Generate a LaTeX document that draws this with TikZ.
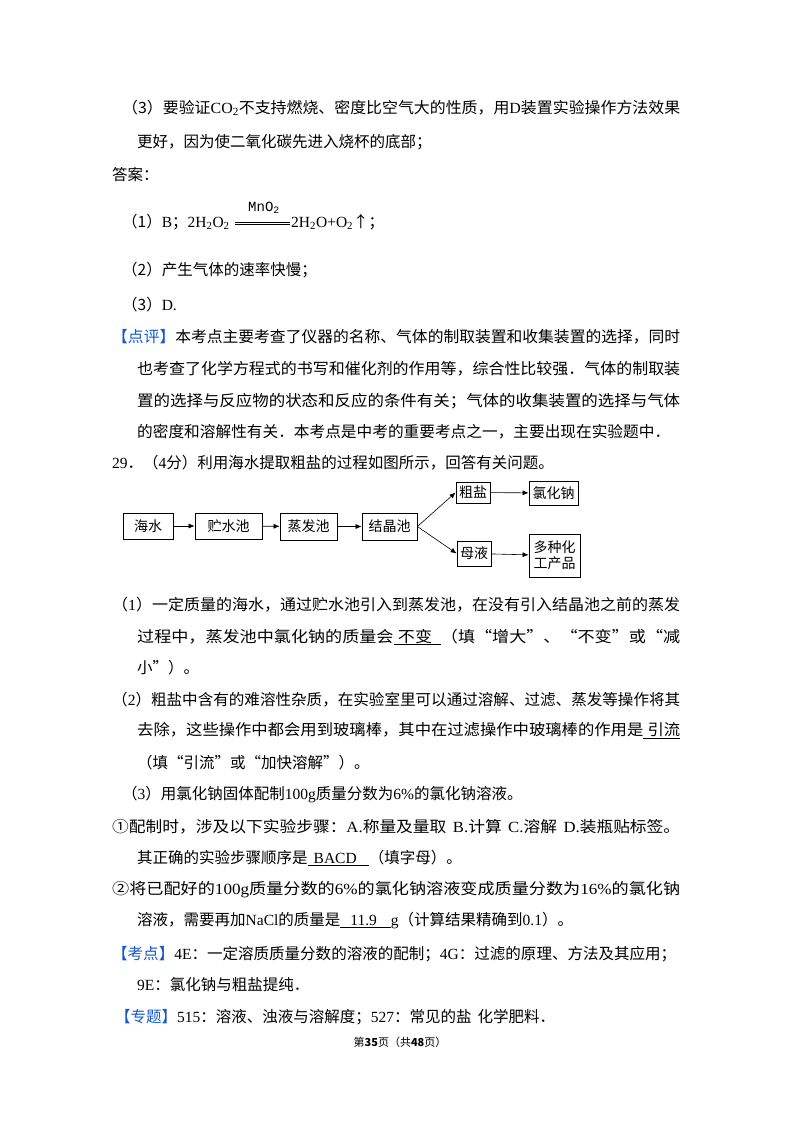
\documentclass[tikz,border=0pt]{standalone}
\usepackage{fontspec}
\usepackage{graphicx}
\setmainfont{Liberation Serif}
\newfontfamily\cjk{Noto Sans CJK SC}
\newfontfamily\mono{Liberation Mono}
\usetikzlibrary{arrows.meta}
\definecolor{hdblue}{RGB}{20,90,200}
\newcommand\fw[2]{\resizebox{#1pt}{\height}{#2}}
\newcommand\hb[1]{{\color{hdblue}【#1】}}
\tikzset{
  ln/.style={anchor=west,inner sep=0pt,font=\cjk\fontsize{15.5}{18}\selectfont},
  bx/.style={draw,thick,inner sep=0pt,font=\cjk\fontsize{14}{16}\selectfont,align=center},
  ar/.style={-{Latex[length=6pt,width=5pt]},line width=0.6pt}
}
\begin{document}
\begin{tikzpicture}[x=1pt,y=-1pt]
\useasboundingbox (0,0) rectangle (800,1132);
\fill[white] (0,0) rectangle (800,1132);
\node[ln] (l1) at (122,108) {\fw{558}{（3）要验证{\rmfamily CO\textsubscript{2}}不支持燃烧、密度比空气大的性质，用{\rmfamily D}装置实验操作方法效果}};
\node[ln] (l2) at (137,142) {更好，因为使二氧化碳先进入烧杯的底部；};
\node[ln] (l3) at (112,175) {答案：};
\node[ln] (l4a) at (122,222) {（1）{\rmfamily B}；{\rmfamily 2H\textsubscript{2}O\textsubscript{2}}};
\coordinate (e1) at (235,223);
\coordinate (e2) at (290,223);
\draw[line width=0.5pt] ([yshift=-1.2pt]e1) -- ([yshift=-1.2pt]e2);
\draw[line width=0.5pt] ([yshift=1.2pt]e1) -- ([yshift=1.2pt]e2);
\node[inner sep=0pt,font=\mono\fontsize{14}{15}\selectfont] (mn) at (264,208) {MnO\textsubscript{2}};
\node[ln] (l4b) at (291,222) {{\rmfamily 2H\textsubscript{2}O+O\textsubscript{2}}↑；};
\node[ln] (l5) at (122,270) {（2）产生气体的速率快慢；};
\node[ln] (l6) at (122,305) {（3）{\rmfamily D.}};
\node[ln] (l7) at (112,337) {\fw{568}{\hb{点评}本考点主要考查了仪器的名称、气体的制取装置和收集装置的选择，同时}};
\node[ln] (l8) at (137,369) {\fw{543}{也考查了化学方程式的书写和催化剂的作用等，综合性比较强．气体的制取装}};
\node[ln] (l9) at (137,401) {\fw{543}{置的选择与反应物的状态和反应的条件有关；气体的收集装置的选择与气体}};
\node[ln] (l10) at (137,432) {\fw{533}{的密度和溶解性有关．本考点是中考的重要考点之一，主要出现在实验题中．}};
\node[ln] (l11) at (112,463) {{\rmfamily 29}．（{\rmfamily 4}分）利用海水提取粗盐的过程如图所示，回答有关问题。};
% flowchart
\node[bx,minimum width=50pt,minimum height=26pt] (b1) at (148,526) {海水};
\node[bx,minimum width=67pt,minimum height=26pt] (b2) at (228.5,526) {贮水池};
\node[bx,minimum width=57pt,minimum height=27pt] (b3) at (308.5,526.5) {蒸发池};
\node[bx,minimum width=55pt,minimum height=27pt] (b4) at (389.5,526.5) {结晶池};
\node[bx,minimum width=34pt,minimum height=21pt] (b5) at (473,492.5) {粗盐};
\node[bx,minimum width=49pt,minimum height=24pt] (b6) at (553.5,493) {氯化钠};
\node[bx,minimum width=34pt,minimum height=25pt] (b7) at (474,553.5) {母液};
\node[bx,minimum width=51pt,minimum height=43pt] (b8) at (554.5,555.5) {多种化\\工产品};
\draw[ar] (b1) -- (b2);
\draw[ar] (b2) -- (b3);
\draw[ar] (b3) -- (b4);
\draw[ar] (b4.east) -- (b5.west);
\draw[ar] (b4.east) -- (b7.west);
\draw[ar] (b5) -- (b6);
\draw[ar] (b7) -- (b8);
% questions
\node[ln] (q1) at (112,605) {\fw{568}{（{\rmfamily 1}）一定质量的海水，通过贮水池引入到蒸发池，在没有引入结晶池之前的蒸发}};
\node[ln] (q2) at (137,637) {\fw{543}{过程中，蒸发池中氯化钠的质量会\underline{\hspace{4pt}不变\hspace{8pt}}（填“增大”、“不变”或“减}};
\node[ln] (q3) at (137,668) {小”）。};
\node[ln] (q4) at (112,700) {\fw{568}{（{\rmfamily 2}）粗盐中含有的难溶性杂质，在实验室里可以通过溶解、过滤、蒸发等操作将其}};
\node[ln] (q5) at (137,731) {\fw{543}{去除，这些操作中都会用到玻璃棒，其中在过滤操作中玻璃棒的作用是\underline{\hspace{4pt}引流}}};
\node[ln] (q6) at (137,763) {（填“引流”或“加快溶解”）。};
\node[ln] (q7) at (122,795) {（{\rmfamily 3}）用氯化钠固体配制{\rmfamily 100g}质量分数为{\rmfamily 6\%}的氯化钠溶液。};
\node[ln] (q8) at (112,827) {\fw{568}{①配制时，涉及以下实验步骤：{\rmfamily A.}称量及量取\hspace{6pt}{\rmfamily B.}计算\hspace{6pt}{\rmfamily C.}溶解\hspace{6pt}{\rmfamily D.}装瓶贴标签。}};
\node[ln] (q9) at (137,858) {其正确的实验步骤顺序是\underline{\hspace{6pt}{\rmfamily BACD}\hspace{12pt}}（填字母）。};
\node[ln] (q10) at (112,890) {\fw{568}{②将已配好的{\rmfamily 100g}质量分数的{\rmfamily 6\%}的氯化钠溶液变成质量分数为{\rmfamily 16\%}的氯化钠}};
\node[ln] (q11) at (137,921) {溶液，需要再加{\rmfamily NaCl}的质量是\underline{\hspace{10pt}{\rmfamily 11.9}\hspace{14pt}}{\rmfamily g}（计算结果精确到{\rmfamily 0.1}）。};
\node[ln] (k1) at (112,954) {\fw{564}{\hb{考点}{\rmfamily 4E}：一定溶质质量分数的溶液的配制；{\rmfamily 4G}：过滤的原理、方法及其应用；}};
\node[ln] (k2) at (137,985) {{\rmfamily 9E}：氯化钠与粗盐提纯．};
\node[ln] (k3) at (115,1017) {\hb{专题}{\rmfamily 515}：溶液、浊液与溶解度；{\rmfamily 527}：常见的盐\hspace{6pt}化学肥料．};
\node[inner sep=0pt,font=\cjk\fontsize{11}{12}\selectfont] (ft) at (400,1042) {第\textbf{35}页（共\textbf{48}页）};
\end{tikzpicture}
\end{document}
